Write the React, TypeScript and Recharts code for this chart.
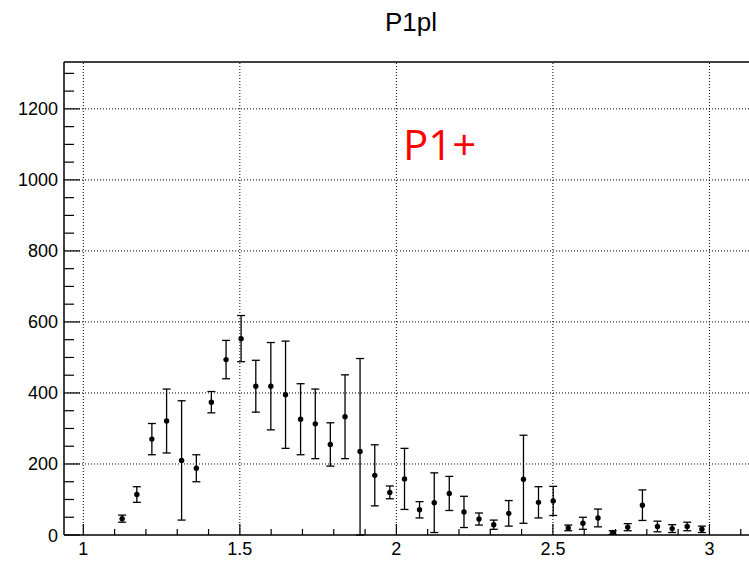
import React from "react";
import {
  ScatterChart,
  Scatter,
  XAxis,
  YAxis,
  ErrorBar,
  ReferenceLine,
  ReferenceDot,
} from "recharts";

// bin centres and contents with their statistical errors
const binCenters = [
  1.124, 1.171, 1.219, 1.266, 1.314, 1.361, 1.409, 1.456, 1.504, 1.551,
  1.599, 1.646, 1.694, 1.741, 1.789, 1.836, 1.884, 1.931, 1.979, 2.026,
  2.074, 2.121, 2.169, 2.216, 2.264, 2.311, 2.359, 2.406, 2.454, 2.501,
  2.549, 2.596, 2.644, 2.691, 2.739, 2.786, 2.834, 2.881, 2.929, 2.976,
];
const counts = [
  46, 114, 270, 321, 210, 188, 374, 494, 553, 419,
  419, 395, 326, 313, 255, 333, 235, 168, 120, 158,
  71, 91, 117, 65, 45, 29, 61, 157, 92, 96,
  20, 33, 48, 7, 22, 84, 24, 18, 24, 16,
];
const errors = [
  10, 22, 44, 90, 168, 38, 30, 54, 65, 73,
  123, 151, 100, 98, 61, 118, 262, 86, 18, 86,
  23, 84, 48, 44, 17, 13, 36, 124, 44, 41,
  8, 17, 25, 5, 10, 43, 15, 11, 12, 9,
];

const xTicks = [
  1, 1.1, 1.2, 1.3, 1.4, 1.5, 1.6, 1.7, 1.8, 1.9, 2, 2.1, 2.2, 2.3, 2.4,
  2.5, 2.6, 2.7, 2.8, 2.9, 3, 3.1,
];
const xGrid = [1, 1.5, 2, 2.5, 3];
const yTicks = [
  0, 50, 100, 150, 200, 250, 300, 350, 400, 450, 500, 550, 600, 650, 700,
  750, 800, 850, 900, 950, 1000, 1050, 1100, 1150, 1200, 1250, 1300,
];
const yGrid = [200, 400, 600, 800, 1000, 1200];

const X_MIN = 0.9383;
const X_MAX = 3.136;
const Y_MAX = 1332;

const FONT = "'Liberation Sans', Arial, Helvetica, sans-serif";

// lower half of each bar stops at the frame (y = 0)
const data = binCenters.map((x, i) => ({
  x,
  y: counts[i],
  err: [Math.min(errors[i], counts[i]), errors[i]],
}));

const isMajorX = (v: number) => Math.abs(v * 2 - Math.round(v * 2)) < 1e-6;

// ROOT style: ticks point into the frame, labels sit outside
const XTick = ({ x, y, payload }: any) => {
  const v = payload.value;
  const major = isMajorX(v);
  return (
    <g>
      <line x1={x} y1={y} x2={x} y2={y - (major ? 11 : 6)} stroke="#000" strokeWidth={1.2} />
      {major && (
        <text x={x} y={y + 20} textAnchor="middle" fontSize={18} fontFamily={FONT} fill="#000">
          {String(v)}
        </text>
      )}
    </g>
  );
};

const YTick = ({ x, y, payload }: any) => {
  const v = payload.value;
  const major = v % 200 === 0;
  return (
    <g>
      <line x1={x} y1={y} x2={x + (major ? 16 : 10)} y2={y} stroke="#000" strokeWidth={1.2} />
      {major && (
        <text x={x - 6} y={y + 6.5} textAnchor="end" fontSize={18} fontFamily={FONT} fill="#000">
          {String(v)}
        </text>
      )}
    </g>
  );
};

const Marker = ({ cx, cy }: any) => <circle cx={cx} cy={cy} r={2.7} fill="#000" />;

export default function App() {
  return (
    <div
      style={{
        position: "fixed",
        left: 0,
        top: 0,
        width: 749,
        height: 561,
        overflow: "hidden",
        background: "#fff",
      }}
    >
      <div
        style={{
          position: "absolute",
          left: 311,
          width: 200,
          top: 10,
          textAlign: "center",
          fontFamily: FONT,
          fontSize: 26,
          lineHeight: "24px",
          color: "#000",
        }}
      >
        P1pl
      </div>
      <ScatterChart
        width={760}
        height={561}
        margin={{ top: 62, right: 8, bottom: 0, left: 0 }}
      >
        <XAxis
          type="number"
          dataKey="x"
          domain={[X_MIN, X_MAX]}
          allowDataOverflow
          ticks={xTicks}
          interval={0}
          tick={<XTick />}
          tickLine={false}
          tickSize={0}
          tickMargin={0}
          height={26}
          axisLine={{ stroke: "#000", strokeWidth: 1.5 }}
        />
        <YAxis
          type="number"
          dataKey="y"
          domain={[0, Y_MAX]}
          allowDataOverflow
          ticks={yTicks}
          interval={0}
          tick={<YTick />}
          tickLine={false}
          tickSize={0}
          tickMargin={0}
          width={64}
          axisLine={{ stroke: "#000", strokeWidth: 1.5 }}
        />
        {xGrid.map((v) => (
          <ReferenceLine key={`gx${v}`} x={v} stroke="#000" strokeWidth={1} strokeDasharray="1 2" />
        ))}
        {yGrid.map((v) => (
          <ReferenceLine key={`gy${v}`} y={v} stroke="#000" strokeWidth={1} strokeDasharray="1 2" />
        ))}
        <ReferenceLine y={Y_MAX} stroke="#000" strokeWidth={1.5} />
        <ReferenceDot
          x={2.021}
          y={1056}
          r={0}
          fill="none"
          stroke="none"
          label={(props: any) => (
            <text
              x={props.viewBox.x}
              y={props.viewBox.y}
              fontSize={42}
              fontFamily="'Open Sans', 'Noto Sans', sans-serif"
              fill="#ff0000"
            >
              P1+
            </text>
          )}
        />
        <Scatter data={data} shape={<Marker />} isAnimationActive={false}>
          <ErrorBar
            dataKey="err"
            direction="y"
            width={4}
            stroke="#000"
            strokeWidth={1.3}
            isAnimationActive={false}
          />
        </Scatter>
      </ScatterChart>
    </div>
  );
}
